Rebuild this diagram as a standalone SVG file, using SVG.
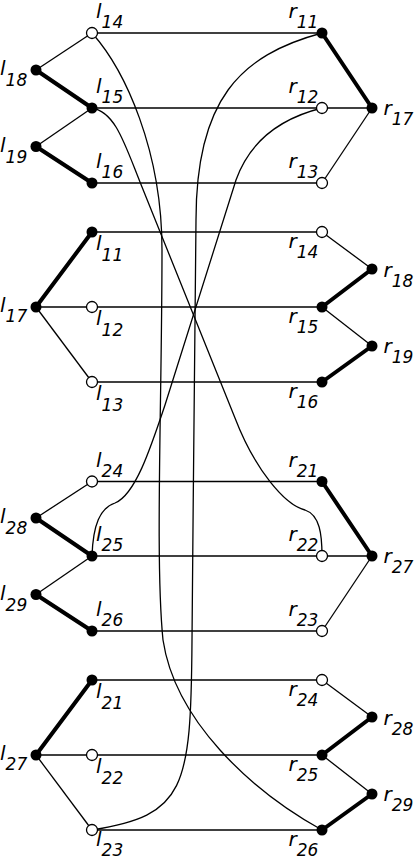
<svg xmlns="http://www.w3.org/2000/svg" width="415" height="860" viewBox="0 0 415 860">
<style>
.e{stroke:#000;stroke-width:1.3;fill:none}
.t{stroke:#000;stroke-width:4;fill:none;stroke-linecap:round}
.f{fill:#000}
.o{fill:#fff;stroke:#000;stroke-width:1.3}
text{font-family:"DejaVu Sans",sans-serif;font-style:italic;font-size:20px;fill:#000}
.s{font-size:17px}
</style>
<rect width="415" height="860" fill="#fff"/>
<g id="connectors">
<!-- top half -->
<line class="e" x1="92" y1="33" x2="322" y2="33"/>
<line class="e" x1="92" y1="108" x2="372" y2="108"/>
<line class="e" x1="92" y1="183" x2="322" y2="183"/>
<line class="e" x1="322" y1="183" x2="372" y2="108"/>
<line class="e" x1="92" y1="33" x2="36" y2="70"/>
<line class="e" x1="92" y1="108" x2="36" y2="146.5"/>
<line class="t" x1="36" y1="70" x2="92" y2="108"/>
<line class="t" x1="36" y1="146.5" x2="92" y2="183"/>
<line class="t" x1="322" y1="33" x2="372" y2="108"/>
<line class="e" x1="92" y1="232" x2="322" y2="232"/>
<line class="e" x1="36" y1="307" x2="322" y2="307"/>
<line class="e" x1="92" y1="382" x2="322" y2="382"/>
<line class="t" x1="36" y1="307" x2="92" y2="232"/>
<line class="e" x1="36" y1="307" x2="92" y2="382"/>
<line class="e" x1="322" y1="232" x2="372" y2="269"/>
<line class="e" x1="322" y1="307" x2="372" y2="346"/>
<line class="t" x1="372" y1="269" x2="322" y2="307"/>
<line class="t" x1="372" y1="346" x2="322" y2="382"/>
<!-- bottom half -->
<line class="e" x1="92" y1="481.5" x2="322" y2="481.5"/>
<line class="e" x1="92" y1="556" x2="372" y2="556"/>
<line class="e" x1="92" y1="631" x2="322" y2="631"/>
<line class="e" x1="322" y1="631" x2="372" y2="556"/>
<line class="e" x1="92" y1="481.5" x2="36" y2="518"/>
<line class="e" x1="92" y1="556" x2="36" y2="594.5"/>
<line class="t" x1="36" y1="518" x2="92" y2="556"/>
<line class="t" x1="36" y1="594.5" x2="92" y2="631"/>
<line class="t" x1="322" y1="481.5" x2="372" y2="556"/>
<line class="e" x1="92" y1="680" x2="322" y2="680"/>
<line class="e" x1="36" y1="755" x2="322" y2="755"/>
<line class="e" x1="92" y1="830" x2="322" y2="830"/>
<line class="t" x1="36" y1="755" x2="92" y2="680"/>
<line class="e" x1="36" y1="755" x2="92" y2="830"/>
<line class="e" x1="322" y1="680" x2="372" y2="717"/>
<line class="e" x1="322" y1="755" x2="372" y2="794"/>
<line class="t" x1="372" y1="717" x2="322" y2="755"/>
<line class="t" x1="372" y1="794" x2="322" y2="830"/>
<!-- crossing curves -->
<path class="e" d="M92,33 C125,70 162,150 162,250 C162,400 155,560 163,640 C175,720 250,790 322,830"/>
<path class="e" d="M322,33 C240,55 196,100 196,220 C195,350 193,500 192,640 C191,790 185,815 92,830"/>
<path class="e" d="M92,108 C115,112 124,142 140,182 L235,418 C255,470 285,505 305,510 C320,515 322,535 322,556"/>
<path class="e" d="M322,108 C290,116 252,135 236,180 L165,405 C150,450 135,495 115,503 C100,508 93,525 92,556"/>
</g>
<!-- top half nodes -->
<g id="l14"><circle class="o" cx="92" cy="33" r="5.5"/><text x="96" y="18">l<tspan class="s" dy="10">14</tspan></text></g>
<g id="l18"><circle class="f" cx="36" cy="70" r="5.5"/><text x="0" y="75">l<tspan class="s" dy="11">18</tspan></text></g>
<g id="l15"><circle class="f" cx="92" cy="108" r="5.5"/><text x="96" y="93">l<tspan class="s" dy="10">15</tspan></text></g>
<g id="l19"><circle class="f" cx="36" cy="146.5" r="5.5"/><text x="0" y="152">l<tspan class="s" dy="11">19</tspan></text></g>
<g id="l16"><circle class="f" cx="92" cy="183" r="5.5"/><text x="96" y="168">l<tspan class="s" dy="10">16</tspan></text></g>
<g id="r11"><circle class="f" cx="322" cy="33" r="5.5"/><text x="288.5" y="18">r<tspan class="s" dy="10">11</tspan></text></g>
<g id="r12"><circle class="o" cx="322" cy="108" r="5.5"/><text x="288.5" y="93">r<tspan class="s" dy="10">12</tspan></text></g>
<g id="r13"><circle class="o" cx="322" cy="183" r="5.5"/><text x="288.5" y="168">r<tspan class="s" dy="10">13</tspan></text></g>
<g id="r17"><circle class="f" cx="372" cy="108" r="5.5"/><text x="383.5" y="115">r<tspan class="s" dy="10">17</tspan></text></g>
<g id="l11"><circle class="f" cx="92" cy="232" r="5.5"/><text x="96" y="250">l<tspan class="s" dy="11">11</tspan></text></g>
<g id="l17"><circle class="f" cx="36" cy="307" r="5.5"/><text x="0" y="312">l<tspan class="s" dy="10">17</tspan></text></g>
<g id="l12"><circle class="o" cx="92" cy="307" r="5.5"/><text x="96" y="325">l<tspan class="s" dy="11">12</tspan></text></g>
<g id="l13"><circle class="o" cx="92" cy="382" r="5.5"/><text x="96" y="400">l<tspan class="s" dy="11">13</tspan></text></g>
<g id="r14"><circle class="o" cx="322" cy="232" r="5.5"/><text x="288.5" y="248">r<tspan class="s" dy="10">14</tspan></text></g>
<g id="r18"><circle class="f" cx="372" cy="269" r="5.5"/><text x="383.5" y="277">r<tspan class="s" dy="10">18</tspan></text></g>
<g id="r15"><circle class="f" cx="322" cy="307" r="5.5"/><text x="288.5" y="323">r<tspan class="s" dy="10">15</tspan></text></g>
<g id="r19"><circle class="f" cx="372" cy="346" r="5.5"/><text x="383.5" y="353">r<tspan class="s" dy="10">19</tspan></text></g>
<g id="r16"><circle class="f" cx="322" cy="382" r="5.5"/><text x="288.5" y="398">r<tspan class="s" dy="10">16</tspan></text></g>
<!-- bottom half nodes -->
<g id="l24"><circle class="o" cx="92" cy="481.5" r="5.5"/><text x="96" y="466.5">l<tspan class="s" dy="10">24</tspan></text></g>
<g id="l28"><circle class="f" cx="36" cy="518" r="5.5"/><text x="0" y="523">l<tspan class="s" dy="11">28</tspan></text></g>
<g id="l25"><circle class="f" cx="92" cy="556" r="5.5"/><text x="96" y="541">l<tspan class="s" dy="10">25</tspan></text></g>
<g id="l29"><circle class="f" cx="36" cy="594.5" r="5.5"/><text x="0" y="600">l<tspan class="s" dy="11">29</tspan></text></g>
<g id="l26"><circle class="f" cx="92" cy="631" r="5.5"/><text x="96" y="616">l<tspan class="s" dy="10">26</tspan></text></g>
<g id="r21"><circle class="f" cx="322" cy="481.5" r="5.5"/><text x="288.5" y="466.5">r<tspan class="s" dy="10">21</tspan></text></g>
<g id="r22"><circle class="o" cx="322" cy="556" r="5.5"/><text x="288.5" y="541">r<tspan class="s" dy="10">22</tspan></text></g>
<g id="r23"><circle class="o" cx="322" cy="631" r="5.5"/><text x="288.5" y="616">r<tspan class="s" dy="10">23</tspan></text></g>
<g id="r27"><circle class="f" cx="372" cy="556" r="5.5"/><text x="383.5" y="563">r<tspan class="s" dy="10">27</tspan></text></g>
<g id="l21"><circle class="f" cx="92" cy="680" r="5.5"/><text x="96" y="698">l<tspan class="s" dy="11">21</tspan></text></g>
<g id="l27"><circle class="f" cx="36" cy="755" r="5.5"/><text x="0" y="760">l<tspan class="s" dy="10">27</tspan></text></g>
<g id="l22"><circle class="o" cx="92" cy="755" r="5.5"/><text x="96" y="773">l<tspan class="s" dy="11">22</tspan></text></g>
<g id="l23"><circle class="o" cx="92" cy="830" r="5.5"/><text x="96" y="846">l<tspan class="s" dy="10">23</tspan></text></g>
<g id="r24"><circle class="o" cx="322" cy="680" r="5.5"/><text x="288.5" y="696">r<tspan class="s" dy="10">24</tspan></text></g>
<g id="r28"><circle class="f" cx="372" cy="717" r="5.5"/><text x="383.5" y="725">r<tspan class="s" dy="10">28</tspan></text></g>
<g id="r25"><circle class="f" cx="322" cy="755" r="5.5"/><text x="288.5" y="771">r<tspan class="s" dy="10">25</tspan></text></g>
<g id="r29"><circle class="f" cx="372" cy="794" r="5.5"/><text x="383.5" y="801">r<tspan class="s" dy="10">29</tspan></text></g>
<g id="r26"><circle class="f" cx="322" cy="830" r="5.5"/><text x="288.5" y="846">r<tspan class="s" dy="10">26</tspan></text></g>
</svg>
